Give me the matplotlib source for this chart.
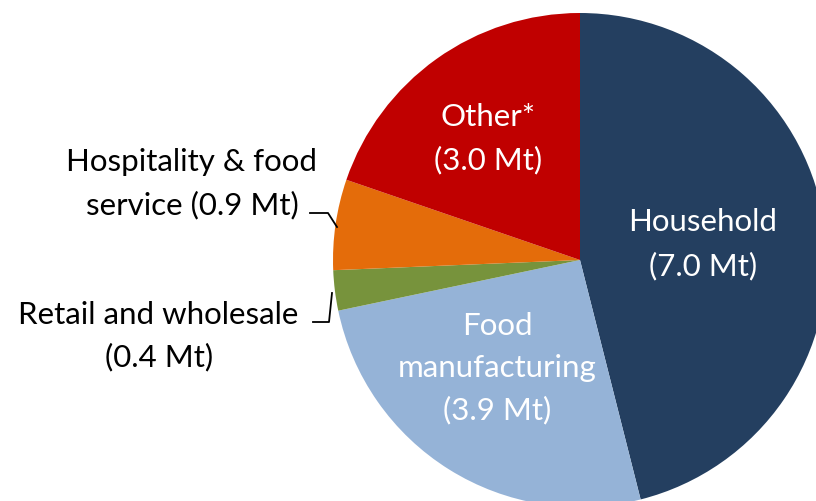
import matplotlib.pyplot as plt

# food waste by sector, million tonnes
sectors = ['Household', 'Food manufacturing', 'Retail and wholesale',
           'Hospitality & food service', 'Other*']
values = [7.0, 3.9, 0.4, 0.9, 3.0]
colors = ['#243F60', '#95B3D7', '#77933C', '#E46C0A', '#C00000']

# label lines, one list per slice
label_lines = [
    ['Household'],
    ['Food', 'manufacturing'],
    ['Retail and wholesale'],
    ['Hospitality & food', 'service'],
    ['Other*'],
]

W, H = 816, 501
cx, cy, r = 580, 260, 247

fig = plt.figure(figsize=(W / 100, H / 100), dpi=100)
ax = fig.add_axes([(cx - r) / W, (H - cy - r) / H, 2 * r / W, 2 * r / H])
ax.pie(values, colors=colors, startangle=90, counterclock=False, radius=1)
ax.set_xlim(-1, 1)
ax.set_ylim(-1, 1)
ax.set_aspect('equal')
ax.axis('off')


def px(x, y):
    # pixel position in the picture -> data coords of the pie axes
    return (x - cx) / r, (cy - y) / r


font = dict(family=['Lato', 'DejaVu Sans'], fontsize=22.5)


def put_lines(lines, x, y0, step, color):
    for i, s in enumerate(lines):
        tx, ty = px(x, y0 + i * step)
        ax.text(tx, ty, s, ha='center', va='center', color=color, **font)


def with_value(i):
    lines = list(label_lines[i])
    tag = '(%.1f Mt)' % values[i]
    if i == 3:
        lines[-1] = lines[-1] + ' ' + tag
    else:
        lines.append(tag)
    return lines


# inside labels
put_lines(with_value(0), 703, 222, 44, 'white')
put_lines(with_value(1), 497, 326, 42, 'white')
put_lines(with_value(4), 488, 117, 43, 'white')

# outside labels
put_lines(with_value(3), 192, 162, 43, 'black')
retail = with_value(2)
tx, ty = px(158, 315)
ax.text(tx, ty, retail[0], ha='center', va='center', color='black', **font)
tx, ty = px(159, 357)
ax.text(tx, ty, retail[1], ha='center', va='center', color='black', **font)

# leader lines
for pts in ([(310, 213), (328, 213), (337, 227)],
            [(313, 322), (329, 322), (332, 293)]):
    xs, ys = zip(*[px(x, y) for x, y in pts])
    ax.plot(xs, ys, color='black', lw=1.3, clip_on=False)

fig.savefig('out.png', dpi=100)
